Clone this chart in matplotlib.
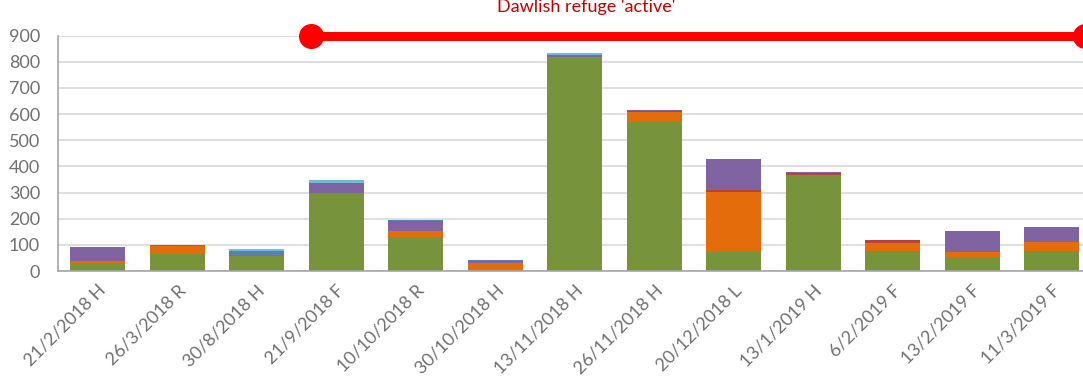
import matplotlib
matplotlib.use('Agg')
import matplotlib.pyplot as plt
import numpy as np

# Survey dates (with tide/state code) and counts per group, stacked bottom to top
dates = ['21/2/2018 H', '26/3/2018 R', '30/8/2018 H', '21/9/2018 F', '10/10/2018 R',
         '30/10/2018 H', '13/11/2018 H', '26/11/2018 H', '20/12/2018 L', '13/1/2019 H',
         '6/2/2019 F', '13/2/2019 F', '11/3/2019 F']
green  = [30, 64, 58, 297, 130, 0, 815, 571, 72, 367, 78, 51, 76]
orange = [9, 32, 0, 0, 22, 32, 5, 38, 231, 0, 28, 21, 34]
red    = [0, 0, 0, 0, 0, 0, 0, 2, 5, 6, 13, 0, 0]
purple = [53, 2, 0, 38, 40, 6, 5, 5, 119, 4, 0, 80, 57]
blue   = [0, 0, 17, 0, 3, 4, 0, 0, 0, 0, 0, 0, 0]
aqua   = [0, 0, 8, 13, 0, 0, 7, 0, 0, 0, 0, 0, 0]

series = [(green, '#77933C'), (orange, '#E46C0A'), (red, '#B8433A'),
          (purple, '#8064A2'), (blue, '#5A7FAE'), (aqua, '#6FBCD4')]

# refuge active period, in category units along the x axis
active_start = 2.68
active_end = 12.42
active_level = 900

plt.rcParams['font.family'] = ['Lato', 'DejaVu Sans']

fig = plt.figure(figsize=(10.83, 3.85), dpi=100)
ax = fig.add_axes([58 / 1083, 114 / 385, 1033.5 / 1083, 235.3 / 385])

x = np.arange(len(dates))
bottom = np.zeros(len(dates))
for vals, col in series:
    ax.bar(x, vals, 0.69, bottom=bottom, color=col, zorder=2)
    bottom += np.array(vals)

ax.set_xlim(-0.5, len(dates) - 0.5)
ax.set_ylim(0, 900)
ax.set_yticks(range(0, 901, 100))
ax.grid(axis='y', color='#D9D9D9', linewidth=1.2, zorder=0)
ax.set_xticks(x)
ax.set_xticklabels(dates, rotation=45, ha='right', rotation_mode='anchor')
ax.tick_params(axis='both', length=0, labelsize=13, labelcolor='#707070')
ax.tick_params(axis='x', pad=8)
ax.tick_params(axis='y', pad=13)

for side in ['top', 'right']:
    ax.spines[side].set_visible(False)
for side in ['left', 'bottom']:
    ax.spines[side].set_color('#A6A6A6')
    ax.spines[side].set_linewidth(1.2)

# bar showing when the Dawlish refuge was active
ax.plot([active_start, active_end], [active_level, active_level], color='#FF0000',
        linewidth=6.5, marker='o', markersize=17, clip_on=False, zorder=5,
        solid_capstyle='butt')
fig.text(586 / 1083, 1 - 12 / 385, "Dawlish refuge 'active'", color='#C00000',
         fontsize=13, ha='center', va='baseline')

plt.savefig('out.png', dpi=100)
